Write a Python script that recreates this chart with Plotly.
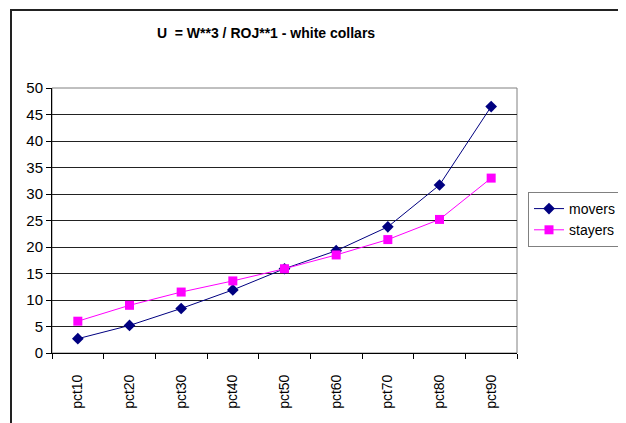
import plotly.graph_objects as go

categories = ["pct10", "pct20", "pct30", "pct40", "pct50", "pct60", "pct70", "pct80", "pct90"]
movers = [2.7, 5.2, 8.4, 11.9, 15.9, 19.3, 23.8, 31.7, 46.5]
stayers = [6.0, 9.0, 11.5, 13.6, 15.9, 18.5, 21.4, 25.2, 33.0]
y_ticks = [0, 5, 10, 15, 20, 25, 30, 35, 40, 45, 50]

# page body has an 8px margin, so the figure is drawn 8px in from the window
OFF = 8
W, H = 626 - OFF, 423 - OFF
L, R, T, B = 52 - OFF, 517 - OFF, 88 - OFF, 353 - OFF
pw, ph = R - L, B - T

def px(x):
    return (x - OFF - L) / pw

def py(y):
    return (B - (y - OFF)) / ph

fig = go.Figure()
fig.add_trace(go.Scatter(
    x=categories, y=movers, name="movers", mode="lines+markers",
    line=dict(color="#000080", width=1),
    marker=dict(symbol="diamond", size=9, color="#000080"),
))
fig.add_trace(go.Scatter(
    x=categories, y=stayers, name="stayers", mode="lines+markers",
    line=dict(color="#FF00FF", width=1),
    marker=dict(symbol="square", size=9, color="#FF00FF"),
))

font = "Liberation Sans, Arial, sans-serif"
fig.update_layout(
    width=W, height=H,
    margin=dict(l=L, r=W - R, t=T, b=H - B, pad=0, autoexpand=False),
    paper_bgcolor="white", plot_bgcolor="white",
    font=dict(family=font, size=14, color="black"),
    title=dict(text="<b>U  = W**3 / ROJ**1 - white collars</b>",
               xref="container", x=(266 - OFF) / W, xanchor="center",
               y=1 - (33 - OFF) / H, yanchor="middle",
               font=dict(size=14, family=font, color="black")),
    showlegend=True,
    legend=dict(x=px(528), y=py(192), xanchor="left", yanchor="top",
                bordercolor="#808080", borderwidth=1, bgcolor="white",
                font=dict(size=14, family=font), tracegroupgap=4,
                itemwidth=30),
    shapes=[
        dict(type="rect", xref="paper", yref="paper",
             x0=px(11), x1=px(622), y0=py(450), y1=py(10),
             line=dict(color="#222222", width=2), layer="below"),
        dict(type="rect", xref="paper", yref="paper",
             x0=0, x1=1, y0=0, y1=1,
             line=dict(color="#808080", width=1), layer="below"),
    ],
)
fig.update_xaxes(
    type="category", tickangle=-90, tickson="boundaries",
    ticks="outside", ticklen=5, tickcolor="black",
    showline=True, linecolor="black", linewidth=1,
    showgrid=False, range=[-0.5, 8.5], ticklabelstandoff=15,
    tickfont=dict(size=14, family=font),
)
fig.update_yaxes(
    range=[0, 50], tickvals=y_ticks, ticks="outside", ticklen=5,
    tickcolor="black", showline=True, linecolor="black", linewidth=1,
    showgrid=True, gridcolor="#222222", gridwidth=1, zeroline=False,
    tickfont=dict(size=15, family=font),
)

fig.write_html("out.html")
